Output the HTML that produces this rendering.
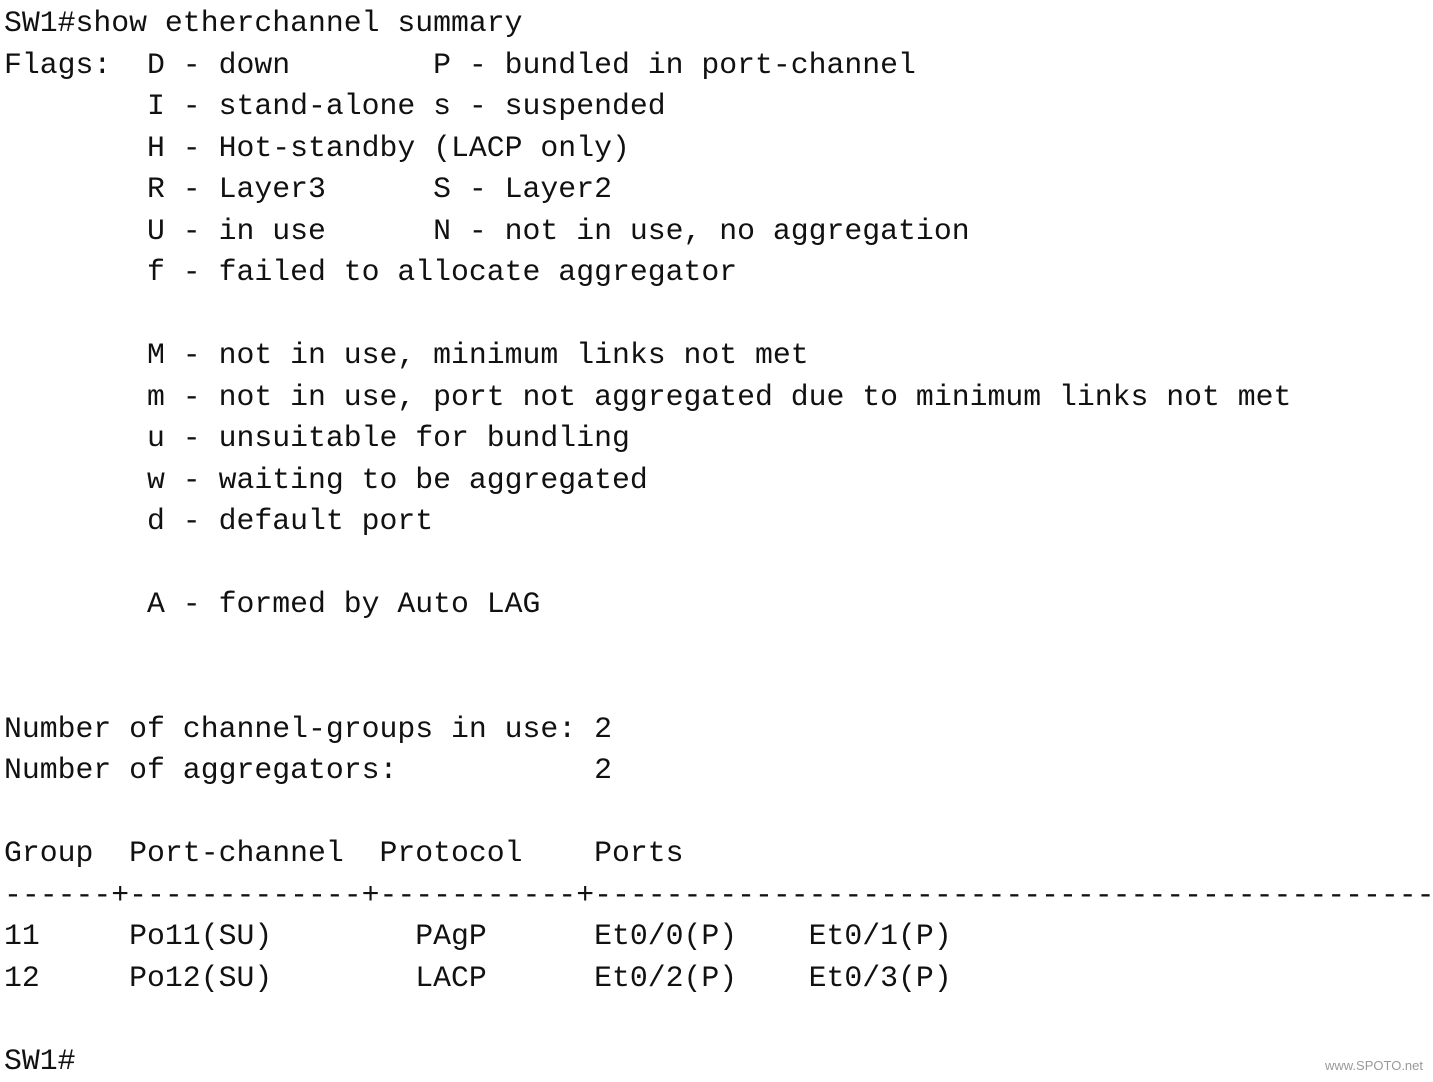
<!DOCTYPE html>
<html><head><meta charset="utf-8"><style>
html,body{margin:0;padding:0;background:#fff;width:1433px;height:1080px;overflow:hidden;}
pre{position:absolute;left:4px;top:3px;margin:0;font-family:"Liberation Mono",monospace;font-size:29.8px;line-height:41.5px;color:#111;}
.wm{position:absolute;right:10px;top:1058px;font-family:"Liberation Sans",sans-serif;font-size:13px;color:#999;}
</style></head><body>
<pre>SW1#show etherchannel summary
Flags:  D - down        P - bundled in port-channel
        I - stand-alone s - suspended
        H - Hot-standby (LACP only)
        R - Layer3      S - Layer2
        U - in use      N - not in use, no aggregation
        f - failed to allocate aggregator

        M - not in use, minimum links not met
        m - not in use, port not aggregated due to minimum links not met
        u - unsuitable for bundling
        w - waiting to be aggregated
        d - default port

        A - formed by Auto LAG


Number of channel-groups in use: 2
Number of aggregators:           2

Group  Port-channel  Protocol    Ports
------+-------------+-----------+-----------------------------------------------
11     Po11(SU)        PAgP      Et0/0(P)    Et0/1(P)
12     Po12(SU)        LACP      Et0/2(P)    Et0/3(P)

SW1#</pre>
<div class="wm">www.SPOTO.net</div>
</body></html>
